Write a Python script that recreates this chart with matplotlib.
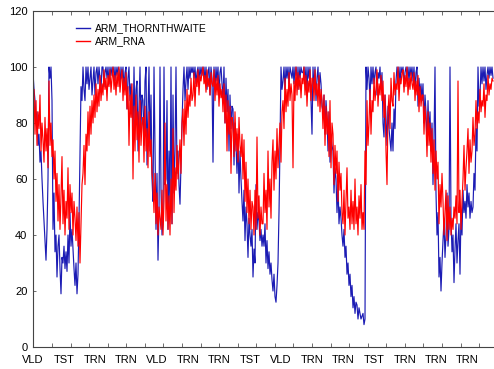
import numpy as np
import matplotlib
matplotlib.use("Agg")
import matplotlib.pyplot as plt

plt.rcParams['font.family'] = ['Liberation Sans', 'DejaVu Sans']

# ARM_THORNTHWAITE (blue) values
arm_thornthwaite = [
    98, 92, 88, 80, 84, 72, 76, 66, 70, 60,
    52, 45, 38, 31, 42, 60, 100, 96, 100, 88,
    42, 55, 34, 40, 25, 36, 40, 28, 19, 32,
    30, 36, 28, 34, 27, 40, 30, 48, 36, 42,
    35, 28, 22, 30, 19, 26, 45, 70, 93, 88,
    100, 92, 88, 100, 94, 100, 92, 96, 100, 90,
    95, 100, 90, 98, 100, 94, 100, 96, 92, 100,
    100, 93, 98, 100, 96, 100, 94, 100, 97, 100,
    98, 100, 95, 100, 97, 100, 99, 93, 100, 96,
    100, 92, 98, 100, 85, 96, 100, 88, 94, 90,
    75, 100, 80, 92, 95, 70, 86, 100, 78, 90,
    88, 72, 95, 100, 65, 84, 100, 70, 90, 60,
    52, 100, 70, 42, 62, 31, 48, 100, 56, 40,
    45, 100, 58, 60, 88, 42, 70, 50, 100, 44,
    90, 55, 70, 100, 62, 70, 58, 51, 66, 80,
    92, 100, 88, 95, 100, 92, 100, 96, 100, 98,
    100, 96, 100, 94, 98, 100, 95, 100, 97, 100,
    97, 100, 95, 100, 92, 98, 100, 90, 100, 96,
    66, 100, 92, 100, 95, 100, 90, 98, 100, 94,
    88, 100, 80, 96, 84, 92, 70, 90, 78, 86,
    85, 65, 80, 72, 62, 76, 55, 70, 60, 52,
    45, 56, 38, 50, 44, 32, 46, 40, 36, 42,
    25, 35, 30, 58, 42, 48, 45, 38, 42, 36,
    40, 36, 44, 30, 38, 28, 34, 26, 30, 24,
    20, 26, 18, 16, 22, 30, 48, 72, 100, 92,
    95, 100, 92, 100, 96, 100, 94, 100, 98, 96,
    100, 94, 100, 97, 100, 92, 100, 96, 100, 98,
    98, 100, 95, 100, 92, 100, 96, 100, 88, 76,
    100, 92, 100, 88, 96, 100, 90, 98, 94, 86,
    84, 90, 76, 88, 82, 70, 84, 66, 76, 72,
    70, 55, 64, 60, 48, 58, 44, 50, 46, 40,
    36, 42, 32, 36, 26, 30, 22, 26, 18, 22,
    14, 18, 12, 16, 15, 10, 14, 12, 10, 11,
    12, 8, 10, 100, 92, 100, 96, 88, 100, 94,
    100, 94, 98, 100, 90, 98, 96, 100, 92, 98,
    80, 75, 90, 82, 72, 86, 78, 74, 70, 80,
    70, 85, 78, 95, 100, 96, 100, 94, 100, 98,
    100, 93, 98, 100, 97, 100, 95, 100, 97, 100,
    95, 100, 92, 98, 100, 86, 96, 90, 94, 88,
    94, 80, 90, 84, 72, 88, 76, 84, 70, 80,
    58, 74, 100, 55, 40, 48, 25, 32, 20, 30,
    38, 45, 32, 40, 55, 36, 42, 100, 46, 34,
    40, 23, 35, 44, 30, 38, 44, 26, 48, 40,
    56, 48, 52, 46, 58, 50, 55, 46, 52, 48,
    50, 62, 56, 78, 70, 100, 86, 90, 100, 94,
    100, 95, 100, 92, 97, 100, 96, 100, 97, 100,
    96,
]

# ARM_RNA (red) values
arm_rna = [
    85, 92, 76, 88, 72, 84, 78, 90, 70, 80,
    74, 66, 82, 70, 78, 64, 95, 72, 80, 68,
    74, 60, 70, 52, 62, 45, 58, 42, 54, 68,
    44, 56, 40, 52, 46, 64, 42, 58, 48, 55,
    40, 52, 46, 38, 50, 36, 48, 30, 44, 58,
    62, 72, 58, 76, 70, 84, 72, 86, 76, 88,
    80, 90, 82, 94, 84, 92, 86, 97, 88, 94,
    90, 99, 92, 96, 88, 97, 93, 99, 91, 96,
    100, 92, 97, 90, 98, 93, 100, 91, 96, 99,
    88, 96, 90, 98, 85, 93, 72, 90, 82, 94,
    60, 86, 70, 90, 74, 84, 66, 88, 72, 80,
    82, 66, 86, 70, 78, 64, 84, 68, 74, 62,
    58, 48, 62, 44, 55, 40, 50, 46, 42, 56,
    40, 52, 80, 45, 58, 42, 54, 40, 60, 44,
    78, 48, 64, 56, 72, 60, 66, 74, 62, 80,
    85, 72, 88, 76, 92, 82, 90, 86, 96, 88,
    90, 98, 86, 96, 93, 99, 90, 97, 95, 98,
    100, 94, 97, 91, 99, 93, 96, 90, 98, 94,
    93, 99, 88, 96, 90, 97, 86, 94, 89, 92,
    84, 94, 80, 90, 70, 88, 76, 86, 62, 82,
    80, 68, 84, 70, 78, 66, 82, 72, 68, 76,
    60, 74, 52, 66, 48, 60, 44, 56, 42, 52,
    50, 40, 56, 42, 75, 46, 54, 40, 50, 44,
    44, 62, 48, 56, 42, 70, 50, 60, 46, 66,
    74, 56, 70, 60, 78, 64, 72, 80, 66, 84,
    88, 78, 96, 84, 92, 86, 98, 88, 94, 90,
    64, 95, 88, 100, 90, 98, 92, 97, 89, 96,
    94, 100, 90, 97, 86, 95, 91, 99, 88, 96,
    96, 88, 99, 90, 94, 86, 97, 84, 92, 88,
    78, 90, 72, 86, 76, 84, 68, 88, 64, 80,
    76, 58, 72, 62, 70, 52, 66, 56, 62, 48,
    44, 56, 40, 52, 64, 46, 50, 42, 56, 44,
    52, 42, 60, 44, 50, 40, 54, 46, 58, 42,
    48, 42, 70, 58, 88, 72, 80, 92, 76, 88,
    84, 96, 88, 92, 99, 86, 94, 90, 97, 88,
    95, 82, 90, 70, 58, 84, 90, 78, 96, 88,
    86, 98, 90, 94, 92, 100, 88, 96, 94, 98,
    99, 91, 97, 93, 100, 90, 96, 92, 98, 94,
    92, 98, 88, 95, 90, 97, 84, 93, 86, 90,
    90, 76, 86, 80, 68, 84, 72, 80, 66, 78,
    62, 74, 56, 70, 60, 66, 44, 58, 50, 62,
    52, 40, 48, 56, 38, 54, 42, 50, 40, 46,
    42, 50, 46, 54, 44, 95, 48, 56, 42, 52,
    60, 72, 56, 64, 70, 78, 62, 74, 66, 70,
    82, 72, 76, 88, 78, 84, 80, 92, 84, 88,
    86, 94, 82, 90, 88, 97, 90, 94, 92, 96,
    95,
]

x_labels = ["VLD", "TST", "TRN", "TRN", "VLD", "TRN", "TRN", "TST",
            "VLD", "TRN", "TRN", "TST", "TRN", "TRN", "TRN"]
y_ticks = [0, 20, 40, 60, 80, 100, 120]

W, H = 494, 369
fig = plt.figure(figsize=(W / 100, H / 100), dpi=100)
ax = fig.add_axes([33 / W, (H - 347) / H, 461 / W, 336 / H])

n = len(arm_rna)
xs = np.arange(n)
ax.plot(xs, arm_thornthwaite, color="#1c1cb4", lw=0.85, label="ARM_THORNTHWAITE")
ax.plot(xs, arm_rna, color="#ff0000", lw=0.85, label="ARM_RNA")

ax.set_xlim(0, n)
ax.set_ylim(0, 120)

step = 31
ax.set_xticks([i * step for i in range(len(x_labels))])
ax.set_xticklabels(x_labels, fontsize=8)
ax.tick_params(axis='x', length=0, pad=5.5)
minor = np.arange(19, n, 18.57)
ax.set_xticks(minor, minor=True)
ax.tick_params(axis='x', which='minor', direction='in', length=3, width=0.6,
               top=True, bottom=True, color="#555555")

ax.set_yticks(y_ticks)
ax.set_yticklabels([str(v) for v in y_ticks], fontsize=8)
ax.tick_params(axis='y', direction='in', length=2, width=0.6, pad=4, color="#555555")

for s in ['left', 'bottom', 'top']:
    ax.spines[s].set_color("#444444")
    ax.spines[s].set_linewidth(0.8)
ax.spines['right'].set_visible(False)

leg = ax.legend(loc='upper left', bbox_to_anchor=(0.084, 0.976), frameon=False,
                fontsize=7.5, handlelength=1.35, handletextpad=0.5, labelspacing=0.3,
                borderaxespad=0)
for h in leg.get_lines():
    h.set_linewidth(1.0)

fig.savefig("out.png", dpi=100)
